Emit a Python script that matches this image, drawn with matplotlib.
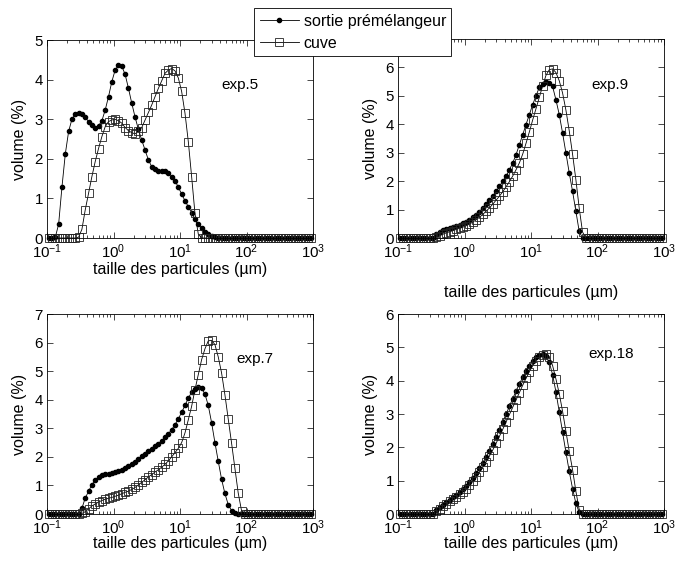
import numpy as np
import matplotlib
matplotlib.use("Agg")
import matplotlib.pyplot as plt
from matplotlib.lines import Line2D

plt.rcParams['font.family'] = ['Liberation Sans', 'DejaVu Sans']
plt.rcParams['font.size'] = 11.5
plt.rcParams['mathtext.fontset'] = 'custom'
plt.rcParams['mathtext.rm'] = 'Liberation Sans'
plt.rcParams['mathtext.default'] = 'regular'

# particle size classes (um), 20 per decade
size_um = [0.1059, 0.1189, 0.1334, 0.1496, 0.1679, 0.1884, 0.2113, 0.2371, 0.2661, 0.2985,
           0.3350, 0.3758, 0.4217, 0.4731, 0.5309, 0.5957, 0.6683, 0.7499, 0.8414, 0.9441,
           1.059, 1.189, 1.334, 1.496, 1.679, 1.884, 2.113, 2.371, 2.661, 2.985,
           3.350, 3.758, 4.217, 4.731, 5.309, 5.957, 6.683, 7.499, 8.414, 9.441,
           10.59, 11.89, 13.34, 14.96, 16.79, 18.84, 21.13, 23.71, 26.61, 29.85,
           33.50, 37.58, 42.17, 47.31, 53.09, 59.57, 66.83, 74.99, 84.14, 94.41,
           105.9, 118.9, 133.4, 149.6, 167.9, 188.4, 211.3, 237.1, 266.1, 298.5,
           335.0, 375.8, 421.7, 473.1, 530.9, 595.7, 668.3, 749.9, 841.4, 944.1]

exp5_premel = [0, 0, 0.02, 0.35, 1.29, 2.12, 2.69, 3.00, 3.13, 3.16, 3.13, 3.05, 2.94, 2.85, 2.79, 2.83, 2.96, 3.23, 3.57, 3.95,
               4.24, 4.37, 4.34, 4.13, 3.78, 3.40, 3.05, 2.74, 2.47, 2.22, 1.97, 1.80, 1.73, 1.70, 1.69, 1.68, 1.63, 1.53, 1.45, 1.28,
               1.11, 0.94, 0.79, 0.64, 0.48, 0.35, 0.26, 0.16, 0.10, 0.05, 0.025, 0.01, 0, 0, 0, 0, 0, 0, 0, 0,
               0, 0, 0, 0, 0, 0, 0, 0, 0, 0, 0, 0, 0, 0, 0, 0, 0, 0, 0, 0]
exp5_cuve = [0, 0, 0, 0, 0, 0, 0, 0, 0, 0.02, 0.22, 0.71, 1.13, 1.55, 1.93, 2.26, 2.56, 2.81, 2.94, 2.98,
             3.00, 2.96, 2.90, 2.79, 2.71, 2.66, 2.63, 2.69, 2.79, 2.98, 3.17, 3.36, 3.57, 3.78, 3.97, 4.16, 4.24, 4.28, 4.22, 4.04,
             3.70, 3.15, 2.43, 1.55, 0.62, 0.10, 0, 0, 0, 0, 0, 0, 0, 0, 0, 0, 0, 0, 0, 0,
             0, 0, 0, 0, 0, 0, 0, 0, 0, 0, 0, 0, 0, 0, 0, 0, 0, 0, 0, 0]

exp9_premel = [0, 0, 0, 0, 0, 0, 0, 0, 0, 0, 0, 0.15, 0.22, 0.27, 0.32, 0.35, 0.39, 0.43, 0.47, 0.53,
               0.58, 0.65, 0.73, 0.82, 0.93, 1.06, 1.20, 1.33, 1.48, 1.64, 1.82, 1.99, 2.17, 2.40, 2.64, 2.93, 3.28, 3.63, 3.99, 4.34,
               4.69, 5.00, 5.30, 5.42, 5.49, 5.45, 5.33, 4.86, 4.34, 3.69, 2.99, 2.29, 1.64, 0.94, 0.23, 0, 0, 0, 0, 0,
               0, 0, 0, 0, 0, 0, 0, 0, 0, 0, 0, 0, 0, 0, 0, 0, 0, 0, 0, 0]
exp9_cuve = [0, 0, 0, 0, 0, 0, 0, 0, 0, 0, 0, 0.03, 0.08, 0.13, 0.18, 0.22, 0.26, 0.30, 0.34, 0.38,
             0.43, 0.49, 0.56, 0.64, 0.73, 0.83, 0.94, 1.06, 1.19, 1.33, 1.47, 1.63, 1.80, 1.98, 2.18, 2.40, 2.64, 2.95, 3.33, 3.73,
             4.15, 4.55, 4.95, 5.35, 5.72, 5.92, 5.95, 5.82, 5.53, 5.10, 4.50, 3.77, 2.95, 2.05, 1.05, 0.21, 0, 0, 0, 0,
             0, 0, 0, 0, 0, 0, 0, 0, 0, 0, 0, 0, 0, 0, 0, 0, 0, 0, 0, 0]

exp7_premel = [0, 0, 0, 0, 0, 0, 0, 0, 0, 0, 0.20, 0.56, 0.79, 1.03, 1.18, 1.28, 1.35, 1.39, 1.41, 1.44,
               1.47, 1.51, 1.55, 1.61, 1.67, 1.75, 1.83, 1.93, 2.02, 2.11, 2.19, 2.28, 2.37, 2.46, 2.57, 2.68, 2.81, 2.95, 3.13, 3.33,
               3.56, 3.80, 4.06, 4.26, 4.39, 4.43, 4.40, 4.20, 3.80, 3.20, 2.50, 1.85, 1.22, 0.72, 0.33, 0.12, 0.03, 0, 0, 0,
               0, 0, 0, 0, 0, 0, 0, 0, 0, 0, 0, 0, 0, 0, 0, 0, 0, 0, 0, 0]
exp7_cuve = [0, 0, 0, 0, 0, 0, 0, 0, 0, 0, 0.02, 0.08, 0.18, 0.28, 0.35, 0.42, 0.47, 0.52, 0.55, 0.58,
             0.62, 0.66, 0.71, 0.76, 0.80, 0.86, 0.93, 1.02, 1.11, 1.20, 1.30, 1.38, 1.47, 1.55, 1.64, 1.74, 1.86, 2.00, 2.15, 2.30,
             2.50, 2.84, 3.30, 3.77, 4.35, 4.88, 5.40, 5.78, 6.06, 6.08, 5.93, 5.50, 4.94, 4.18, 3.33, 2.49, 1.61, 0.74, 0.12, 0,
             0, 0, 0, 0, 0, 0, 0, 0, 0, 0, 0, 0, 0, 0, 0, 0, 0, 0, 0, 0]

exp18_premel = [0, 0, 0, 0, 0, 0, 0, 0, 0, 0, 0, 0.13, 0.21, 0.28, 0.36, 0.43, 0.51, 0.58, 0.66, 0.75,
                0.85, 0.96, 1.09, 1.23, 1.37, 1.53, 1.71, 1.90, 2.10, 2.31, 2.53, 2.76, 2.99, 3.23, 3.46, 3.69, 3.90, 4.10, 4.28, 4.45,
                4.59, 4.71, 4.78, 4.81, 4.74, 4.55, 4.18, 3.66, 3.06, 2.45, 1.85, 1.28, 0.76, 0.32, 0.05, 0, 0, 0, 0, 0,
                0, 0, 0, 0, 0, 0, 0, 0, 0, 0, 0, 0, 0, 0, 0, 0, 0, 0, 0, 0]
exp18_cuve = [0, 0, 0, 0, 0, 0, 0, 0, 0, 0, 0, 0.08, 0.16, 0.24, 0.31, 0.38, 0.45, 0.52, 0.59, 0.67,
              0.76, 0.86, 0.98, 1.11, 1.25, 1.40, 1.56, 1.74, 1.92, 2.12, 2.33, 2.54, 2.76, 2.98, 3.20, 3.42, 3.64, 3.86, 4.07, 4.27,
              4.45, 4.60, 4.71, 4.78, 4.79, 4.72, 4.45, 4.05, 3.61, 3.08, 2.48, 1.88, 1.33, 0.68, 0.13, 0, 0, 0, 0, 0,
              0, 0, 0, 0, 0, 0, 0, 0, 0, 0, 0, 0, 0, 0, 0, 0, 0, 0, 0, 0]

exp_names = ['exp.5', 'exp.9', 'exp.7', 'exp.18']
y_max = [5, 7, 7, 6]
series_names = ['sortie prémélangeur', 'cuve']

W, H = 675, 561
fig = plt.figure(figsize=(W / 100, H / 100), dpi=100)

# axes boxes in pixels: left, top, width, height
boxes = [(47, 40, 266, 198), (398, 39, 266, 199), (47, 314, 266, 200), (398, 314, 266, 200)]
# position of the exp. label (data coords)
label_pos = [(42, 3.86), (80, 5.39), (70, 5.44), (74, 4.81)]
xlabel_y = [-0.12, -0.235, -0.112, -0.112]

premels = [exp5_premel, exp9_premel, exp7_premel, exp18_premel]
cuves = [exp5_cuve, exp9_cuve, exp7_cuve, exp18_cuve]

dot_style = dict(color='k', lw=0.6, marker='o', ms=3.0, mfc='k', mec='k', clip_on=False)
sq_style = dict(color='k', lw=0.6, marker='s', ms=6.2, mfc='none', mec='#222222', mew=0.6, clip_on=False)

for i in range(4):
    l, t, w, h = boxes[i]
    ax = fig.add_axes([l / W, 1 - (t + h) / H, w / W, h / H])
    ax.plot(size_um, premels[i], **dot_style)
    ax.plot(size_um, cuves[i], **sq_style)
    ax.set_xscale('log')
    ax.set_xlim(0.1, 1000)
    ax.set_ylim(0, y_max[i])
    ax.set_yticks(range(0, y_max[i] + 1))
    ax.set_xticks([0.1, 1, 10, 100, 1000])
    ax.tick_params(which='both', direction='in', top=True, right=True, width=0.5, pad=3,
                   labelsize=10.8)
    ax.tick_params(which='major', length=4)
    ax.tick_params(which='minor', length=2)
    for sp in ax.spines.values():
        sp.set_linewidth(0.6)
    ax.set_xlabel('taille des particules (µm)')
    ax.set_ylabel('volume (%)')
    ax.xaxis.set_label_coords(0.5, xlabel_y[i])
    ax.yaxis.set_label_coords(-0.075, 0.5)
    ax.text(label_pos[i][0], label_pos[i][1], exp_names[i], ha='left', va='center', fontsize=11)

handles = [Line2D([], [], **dot_style), Line2D([], [], **sq_style)]
leg = fig.legend(handles, series_names, loc='upper left',
                 bbox_to_anchor=(254 / W, 1 - 8 / H), bbox_transform=fig.transFigure,
                 frameon=True, fancybox=False, framealpha=1, edgecolor='k',
                 borderpad=0.35, labelspacing=0.45, handlelength=2.45, handletextpad=0.3,
                 borderaxespad=0)
leg.get_frame().set_linewidth(0.6)

fig.savefig('out.png', dpi=100)
